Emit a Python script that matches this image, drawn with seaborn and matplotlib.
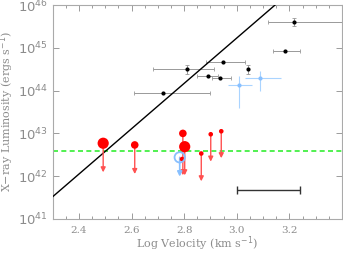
import numpy as np
import pandas as pd
import matplotlib
matplotlib.use("Agg")
import matplotlib.pyplot as plt
import seaborn as sns

# detections (black)
det_v = [3.217, 3.184, 2.947, 3.041, 2.812, 2.892, 2.938, 2.718]
det_L = [45.60, 44.93, 44.67, 44.50, 44.50, 44.35, 44.30, 43.94]
det_vlo = [3.118, 3.137, 2.882, 3.041, 2.682, 2.847, 2.905, 2.610]
det_vhi = [3.45, 3.239, 3.031, 3.041, 2.915, 2.928, 2.978, 2.898]
det_Lerr = [0.10, 0.0, 0.0, 0.10, 0.10, 0.0, 0.0, 0.0]

# light blue detections
blue_v = [3.008, 3.089]
blue_L = [44.13, 44.29]
blue_vlo = [2.968, 3.031]
blue_vhi = [3.057, 3.167]
blue_Llo = [43.59, 43.98]
blue_Lhi = [44.34, 44.47]

# red upper limits
lim_v = [2.492, 2.612, 2.795, 2.802, 2.792, 2.865, 2.901, 2.941]
lim_L = [42.77, 42.73, 43.00, 42.69, 42.40, 42.53, 42.98, 43.05]
lim_tip = [42.09, 42.05, 42.02, 42.02, 42.40, 41.88, 42.34, 42.42]
lim_size = ["big", "mid", "mid", "big", "small", "small", "small", "small"]

# blue upper limit (open circle)
bl_v, bl_L, bl_tip = 2.783, 42.44, 41.99

green_level = 42.58
fit_v = [2.30, 3.40]
fit_L0, fit_slope = 41.52, 5.3
bar_v = [3.0, 3.242]
bar_L = 41.68

sns.set_style("ticks")
grey = "#8c8c8c"
plt.rcParams["font.family"] = ["DejaVu Serif"]

fig = plt.figure(figsize=(3.43, 2.54), dpi=100)
ax = fig.add_axes([0.1536, 0.138, 0.8434, 0.842])

# fit line
fv = np.array(fit_v)
ax.plot(fv, fit_L0 + fit_slope * (fv - 2.30), color="black", lw=1.0, zorder=3)

# green threshold
ax.axhline(green_level, color="#33ee33", ls="--", lw=1.2, dashes=(3, 2), zorder=2)

# black detections
dv = np.array(det_v)
ax.errorbar(det_v, det_L,
            xerr=[dv - np.array(det_vlo), np.array(det_vhi) - dv],
            yerr=det_Lerr, fmt="none", ecolor="#999999", elinewidth=0.7,
            capsize=1.5, capthick=0.6, zorder=2)
df_det = pd.DataFrame({"v": det_v, "L": det_L})
sns.scatterplot(data=df_det, x="v", y="L", color="black", s=9, linewidth=0, ax=ax, zorder=4)

# blue detections
bv = np.array(blue_v)
bL = np.array(blue_L)
ax.errorbar(blue_v, blue_L,
            xerr=[bv - np.array(blue_vlo), np.array(blue_vhi) - bv],
            yerr=[bL - np.array(blue_Llo), np.array(blue_Lhi) - bL],
            fmt="none", ecolor="#aad4ff", elinewidth=0.8, capsize=0, zorder=2)
sns.scatterplot(x=blue_v, y=blue_L, color="#88c0ff", s=9, linewidth=0, ax=ax, zorder=4)

# red upper limits
sizes = {"big": 65, "mid": 30, "small": 11}
for v, L, t in zip(lim_v, lim_L, lim_tip):
    if t < L:
        ax.annotate("", xy=(v, t), xytext=(v, L),
                    arrowprops=dict(arrowstyle="-|>", color="#ff5050", lw=1.0,
                                    mutation_scale=7, shrinkA=0, shrinkB=0),
                    zorder=3)
df_lim = pd.DataFrame({"v": lim_v, "L": lim_L, "size": lim_size})
sns.scatterplot(data=df_lim, x="v", y="L", size="size", sizes=sizes,
                color="red", linewidth=0, ax=ax, legend=False, zorder=5)

# blue upper limit
ax.annotate("", xy=(bl_v, bl_tip), xytext=(bl_v, bl_L),
            arrowprops=dict(arrowstyle="-|>", color="#88c0ff", lw=1.2,
                            mutation_scale=7, shrinkA=0, shrinkB=0), zorder=3)
ax.scatter([bl_v], [bl_L], s=55, facecolors="none", edgecolors="#88c0ff",
           linewidths=1.3, zorder=6)

# scale bar
ax.errorbar([np.mean(bar_v)], [bar_L], xerr=[(bar_v[1] - bar_v[0]) / 2],
            fmt="none", ecolor="#333333", elinewidth=1.0, capsize=3, capthick=1.0)

ax.set_xlim(2.3, 3.4)
ax.set_ylim(41, 46)
ax.set_xticks([2.4, 2.6, 2.8, 3.0, 3.2])
ax.set_xticklabels(["2.4", "2.6", "2.8", "3.0", "3.2"])
ax.set_xticks(np.arange(2.35, 3.4, 0.05), minor=True)
yt = [41, 42, 43, 44, 45, 46]
ax.set_yticks(yt)
ax.set_yticklabels([r"$10^{%d}$" % t for t in yt], fontsize=9.5)
ax.tick_params(which="both", direction="in", top=True, right=True, colors=grey,
               labelcolor=grey, width=0.6)
ax.tick_params(which="major", length=4)
ax.tick_params(which="minor", length=2)
ax.tick_params(axis="x", labelsize=7.5, pad=5)
for s in ax.spines.values():
    s.set_color("#aaaaaa")
    s.set_linewidth(0.8)

ax.set_xlabel(r"Log Velocity (km s$^{-1}$)", color=grey, fontsize=8, labelpad=0)
ax.set_ylabel(r"X$-$ray Luminosity (ergs s$^{-1}$)", color=grey, fontsize=8, labelpad=1)

fig.savefig("out.png", dpi=100)
